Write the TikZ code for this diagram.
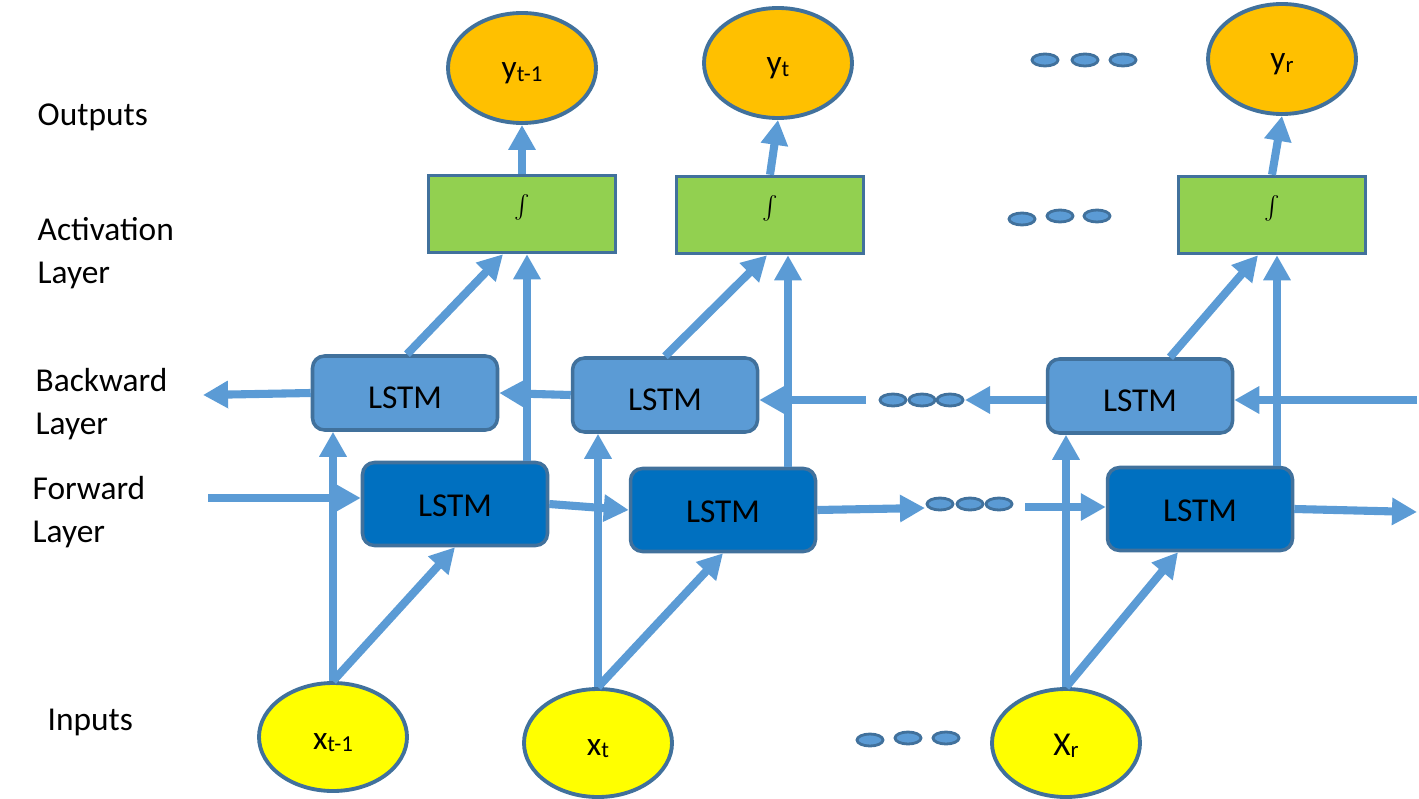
\documentclass[tikz,border=0pt]{standalone}
\usepackage{fontspec}
\setmainfont{Carlito}
\usepackage{graphicx}
\usepackage{tikz}
\usetikzlibrary{arrows.meta,shapes.geometric}
\definecolor{arrowblue}{RGB}{91,155,213}
\definecolor{edgeblue}{RGB}{65,113,156}
\definecolor{lstmlight}{RGB}{91,155,213}
\definecolor{lstmdark}{RGB}{0,112,192}
\definecolor{actgreen}{RGB}{146,208,80}
\definecolor{outorange}{RGB}{255,192,0}
\definecolor{inyellow}{RGB}{255,255,0}
\newcommand{\lowsub}[1]{\raisebox{-0.6pt}{\fontsize{6.5}{7}\selectfont #1}}

\begin{document}
\begin{tikzpicture}[x=0.1mm, y=-0.1mm,
    every node/.style={font=\fontsize{9.5}{12.2}\selectfont},
    outnode/.style={draw=edgeblue, line width=1.1pt, ellipse, fill=outorange, minimum width=14.8mm, minimum height=11mm, inner sep=0pt,
        text height=2.2mm, text depth=0pt},
    innode/.style={outnode, fill=inyellow, minimum height=10.8mm, text height=2.5mm},
    actbox/.style={draw=edgeblue, line width=1pt, fill=actgreen, minimum width=18.7mm, minimum height=7.7mm, inner sep=0pt,
        label={[yshift=2pt]center:\scalebox{0.66}{$\int$}}},
    bwbox/.style={draw=edgeblue, line width=1pt, rounded corners=1.2mm, fill=lstmlight, minimum width=18.5mm, minimum height=7.4mm, inner sep=0pt,
        text height=3.1mm, text depth=0pt},
    fwbox/.style={bwbox, fill=lstmdark, minimum height=8.3mm, text height=2.5mm},
    dotnode/.style={draw=edgeblue, line width=0.8pt, ellipse, fill=arrowblue, minimum width=2.6mm, minimum height=1.2mm, inner sep=0pt},
    link/.style={draw=arrowblue, line width=2.3pt},
    arr/.style={link, -{Triangle[width=2.6mm,length=2.5mm]}}]
\useasboundingbox (0,0) rectangle (1419,799);

\node[anchor=west, inner sep=0pt] (outlab) at (37,117) {Outputs};
\node[anchor=west, inner sep=0pt, align=left] (actlab) at (37,253) {Activation\\Layer};
\node[anchor=west, inner sep=0pt, align=left] (bwlab) at (35,404) {Backward\\Layer};
\node[anchor=west, inner sep=0pt, align=left] (fwlab) at (32,512) {Forward\\Layer};
\node[anchor=west, inner sep=0pt] (inlab) at (47,722) {Inputs};

\node[outnode] (y1) at (522,68) {y\lowsub{t-1}};
\node[outnode] (y2) at (778,63) {y\lowsub{t}};
\node[outnode] (y3) at (1282,59) {y\lowsub{r}};

\node[actbox] (a1) at (522,214) {};
\node[actbox] (a2) at (770,215) {};
\node[actbox] (a3) at (1272,215) {};

\node[bwbox] (b1) at (405,393) {LSTM};
\node[bwbox] (b2) at (665,395) {LSTM};
\node[bwbox] (b3) at (1140,396) {LSTM};

\node[fwbox] (f1) at (455,504) {LSTM};
\node[fwbox] (f2) at (723,510) {LSTM};
\node[fwbox] (f3) at (1200,509) {LSTM};

\node[innode] (x1) at (333,737) {x\lowsub{t-1}};
\node[innode] (x2) at (598,743) {x\lowsub{t}};
\node[innode] (x3) at (1066,743) {X\lowsub{r}};

\node[dotnode] (ydot1) at (1045,60) {};
\node[dotnode] (ydot2) at (1085,60) {};
\node[dotnode] (ydot3) at (1123,60) {};
\node[dotnode] (adot1) at (1022,219) {};
\node[dotnode] (adot2) at (1060,216) {};
\node[dotnode] (adot3) at (1097,216) {};
\node[dotnode] (bdot1) at (893,400) {};
\node[dotnode] (bdot2) at (922,400) {};
\node[dotnode] (bdot3) at (950,400) {};
\node[dotnode] (fdot1) at (940,504) {};
\node[dotnode] (fdot2) at (970,504) {};
\node[dotnode] (fdot3) at (999,504) {};
\node[dotnode] (xdot1) at (870,740) {};
\node[dotnode] (xdot2) at (908,738) {};
\node[dotnode] (xdot3) at (946,738) {};

\coordinate (fin) at (208,498);
\coordinate (fmid) at (925,508);
\coordinate (fres) at (1025,507);
\coordinate (fout) at (1417,512);
\coordinate (bin) at (1417,400);
\coordinate (bmid) at (965,400);
\coordinate (bres) at (866,400);
\coordinate (bout) at (203,395);

\draw[arr] (a1.north) -- (y1.south);
\draw[arr] (a2.north) -- (y2.south);
\draw[arr] (a3.north) -- (y3.south);

\draw[arr] ([xshift=0.2mm]b1.north) -- ([xshift=-1.9mm]a1.south);
\draw[arr] ([xshift=7.2mm]f1.north) -- ([xshift=7.2mm]f1.north |- a1.south);
\draw[arr] (b2.north) -- ([xshift=-0.3mm]a2.south);
\draw[arr] ([xshift=6.5mm]f2.north) -- ([xshift=6.5mm]f2.north |- a2.south);
\draw[arr] ([xshift=3mm]b3.north) -- ([xshift=-1.4mm]a3.south);
\draw[arr] ([xshift=7.7mm]f3.north) -- ([xshift=7.7mm]f3.north |- a3.south);

\draw[arr] (x1.north) -- (x1.north |- b1.south);
\draw[arr] (x1.north) -- (f1.south);
\draw[arr] (x2.north) -- (x2.north |- b2.south);
\draw[arr] (x2.north) -- (f2.south);
\draw[arr] (x3.north) -- (x3.north |- b3.south);
\draw[arr] (x3.north) -- ([xshift=-2.2mm]f3.south);

\draw[arr] (fin) -- (fin -| f1.west);
\draw[arr] (f1.east) -- (f2.west);
\draw[arr] (f2.east) -- (fmid);
\draw[arr] (fres) -- (fres -| f3.west);
\draw[arr] (f3.east) -- (fout);

\draw[arr] (bin) -- (bin -| b3.east);
\draw[arr] (b3.west |- bmid) -- (bmid);
\draw[arr] (bres) -- (bres -| b2.east);
\draw[arr] (b2.west) -- (b1.east);
\draw[arr] (b1.west) -- (bout);
\end{tikzpicture}
\end{document}
